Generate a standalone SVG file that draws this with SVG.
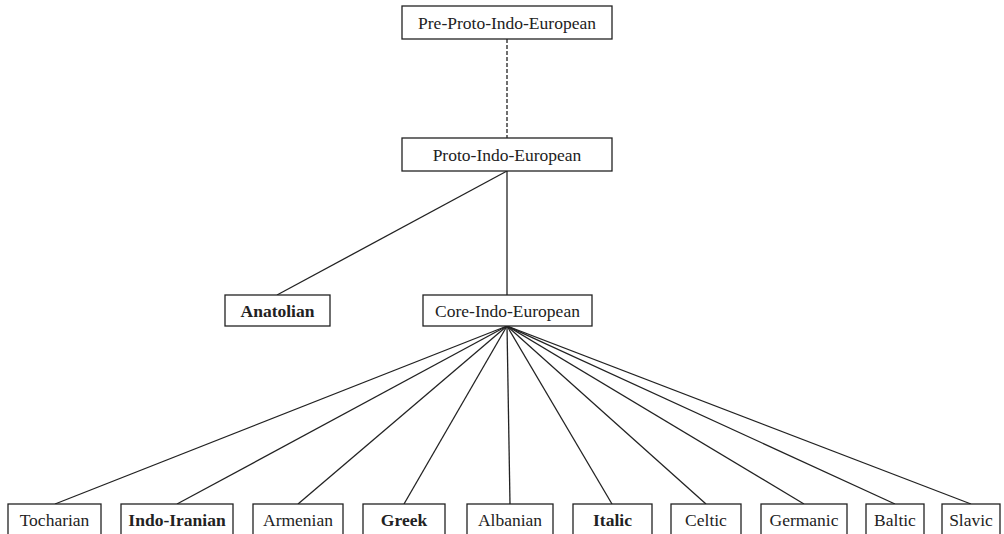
<svg xmlns="http://www.w3.org/2000/svg" width="1004" height="534" viewBox="0 0 1004 534">
<style>
rect{fill:#fff;stroke:#222;stroke-width:1.3}
text{font-family:"Liberation Serif","Times New Roman",serif;font-size:17.5px;fill:#222;text-anchor:middle}
.b{font-weight:bold}
.c line{stroke:#222;stroke-width:1.3}
.d{stroke-dasharray:4,2}
</style>
<g class="c" id="connectors">
<line class="d" x1="507" y1="39" x2="507" y2="138"/>
<line x1="507" y1="171" x2="277" y2="295"/>
<line x1="507" y1="171" x2="507" y2="295"/>
<line x1="507" y1="326" x2="55" y2="504"/>
<line x1="507" y1="326" x2="177" y2="504"/>
<line x1="507" y1="326" x2="298" y2="504"/>
<line x1="507" y1="326" x2="404" y2="504"/>
<line x1="507" y1="326" x2="510" y2="504"/>
<line x1="507" y1="326" x2="612" y2="504"/>
<line x1="507" y1="326" x2="706" y2="504"/>
<line x1="507" y1="326" x2="804" y2="504"/>
<line x1="507" y1="326" x2="895" y2="504"/>
<line x1="507" y1="326" x2="971" y2="504"/>
</g>
<g id="pre-pie"><rect x="402" y="6" width="210" height="33"/><text x="507" y="28.5">Pre-Proto-Indo-European</text></g>
<g id="pie"><rect x="402" y="138" width="210" height="33"/><text x="507" y="160.5">Proto-Indo-European</text></g>
<g id="anatolian"><rect x="225" y="295" width="105" height="31"/><text class="b" x="277.5" y="316.5">Anatolian</text></g>
<g id="core"><rect x="423" y="295" width="169" height="31"/><text x="507.5" y="316.5">Core-Indo-European</text></g>
<g id="tocharian"><rect x="8" y="504" width="93" height="40"/><text x="54.5" y="525.5">Tocharian</text></g>
<g id="indo-iranian"><rect x="121" y="504" width="112" height="40"/><text class="b" x="177" y="525.5">Indo-Iranian</text></g>
<g id="armenian"><rect x="253" y="504" width="90" height="40"/><text x="298" y="525.5">Armenian</text></g>
<g id="greek"><rect x="363" y="504" width="82" height="40"/><text class="b" x="404" y="525.5">Greek</text></g>
<g id="albanian"><rect x="467" y="504" width="86" height="40"/><text x="510" y="525.5">Albanian</text></g>
<g id="italic"><rect x="573" y="504" width="79" height="40"/><text class="b" x="612.5" y="525.5">Italic</text></g>
<g id="celtic"><rect x="671" y="504" width="70" height="40"/><text x="706" y="525.5">Celtic</text></g>
<g id="germanic"><rect x="761" y="504" width="86" height="40"/><text x="804" y="525.5">Germanic</text></g>
<g id="baltic"><rect x="866" y="504" width="58" height="40"/><text x="895" y="525.5">Baltic</text></g>
<g id="slavic"><rect x="942" y="504" width="58" height="40"/><text x="971" y="525.5">Slavic</text></g>
</svg>
